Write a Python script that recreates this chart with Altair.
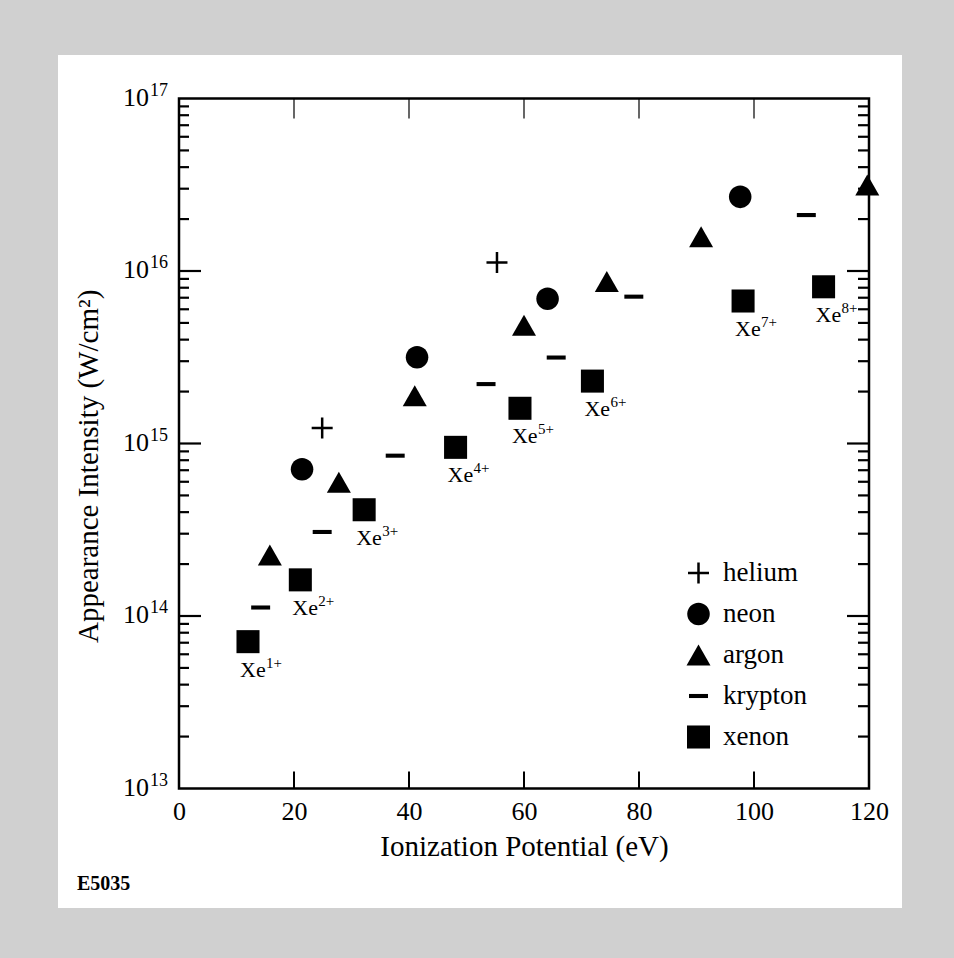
import altair as alt
import pandas as pd

# ---------------- data ----------------
species = ["helium", "neon", "argon", "krypton", "xenon"]

helium_ip = [24.9, 55.3]
helium_int = [1.23e15, 1.12e16]

neon_ip = [21.4, 41.4, 64.1, 97.6]
neon_int = [7.1e14, 3.16e15, 6.9e15, 2.69e16]

argon_ip = [15.8, 27.8, 41.0, 60.0, 74.4, 90.8, 119.7]
argon_int = [2.26e14, 5.96e14, 1.89e15, 4.84e15, 8.7e15, 1.58e16, 3.15e16]

krypton_ip = [14.2, 24.9, 37.6, 53.4, 65.6, 79.1, 109.1]
krypton_int = [1.12e14, 3.07e14, 8.5e14, 2.21e15, 3.15e15, 7.1e15, 2.11e16]

xenon_ip = [12.0, 21.1, 32.2, 48.1, 59.3, 71.9, 98.1, 112.1]
xenon_int = [7.1e13, 1.62e14, 4.13e14, 9.5e14, 1.6e15, 2.3e15, 6.7e15, 8.1e15]
xenon_base = ["Xe"] * 8
xenon_charge = ["1+", "2+", "3+", "4+", "5+", "6+", "7+", "8+"]

x_tick_values = [0, 20, 40, 60, 80, 100, 120]
x_inner_ticks = [20, 40, 60, 80, 100]
y_tick_values = [1e13, 1e14, 1e15, 1e16, 1e17]
y_tick_base = ["10"] * 5
y_tick_exp = ["13", "14", "15", "16", "17"]
y_major_inner = [1e14, 1e15, 1e16]
y_minor = [k * 10.0 ** d for d in range(13, 17) for k in range(2, 10)]

# ---------------- tables ----------------
rows = []
for name, xs, ys in [("helium", helium_ip, helium_int), ("neon", neon_ip, neon_int),
                     ("argon", argon_ip, argon_int), ("krypton", krypton_ip, krypton_int),
                     ("xenon", xenon_ip, xenon_int)]:
    for a, b in zip(xs, ys):
        rows.append({"species": name, "ip": a, "v": b})
df = pd.DataFrame(rows)
xe_df = pd.DataFrame({"ip": xenon_ip, "v": xenon_int, "base": xenon_base, "chg": xenon_charge})
ylab_df = pd.DataFrame({"v": y_tick_values, "base": y_tick_base, "exp": y_tick_exp})
minor_df = pd.DataFrame({"v": y_minor})
major_df = pd.DataFrame({"v": y_major_inner})
xt_df = pd.DataFrame({"ip": x_inner_ticks})

# ---------------- styling ----------------
FONT = "Liberation Serif"
W = H = 690

shape_paths = [
    "M-0.875,-0.104H-0.104V-0.875H0.104V-0.104H0.875V0.104H0.104V0.875H-0.104V0.104H-0.875Z",
    "M-0.94,0A0.94,0.94,0,1,0,0.94,0A0.94,0.94,0,1,0,-0.94,0Z",
    "M0,-0.875L1,0.875L-1,0.875Z",
    "M-0.79,-0.17H0.79V0.17H-0.79Z",
    "M-0.96,-0.96H0.96V0.96H-0.96Z",
]

x_scale = alt.Scale(domain=[0, 120], nice=False, zero=False)
y_scale = alt.Scale(type="log", domain=[1e13, 1e17], nice=False)

x_axis = alt.Axis(values=x_tick_values, format="d", ticks=False, tickSize=0, domain=False, grid=False,
                  labelFont=FONT, labelFontSize=26, labelColor="black", labelPadding=10,
                  labelFlush=False, title="Ionization Potential (eV)", titleFont=FONT,
                  titleFontSize=29, titleFontWeight="normal", titleColor="black",
                  titleBaseline="alphabetic", titleY=67, zindex=1)
y_axis = alt.Axis(values=y_tick_values, labels=False, ticks=False, tickSize=0, domain=False,
                  grid=False, title="Appearance Intensity (W/cm²)", titleFont=FONT, titleFontSize=29,
                  titleFontWeight="normal", titleColor="black", titleAngle=270,
                  titleAlign="left", titleBaseline="alphabetic", titleX=-82, titleY=544, zindex=1)

X = alt.X("ip:Q", scale=x_scale, axis=x_axis)
Y = alt.Y("v:Q", scale=y_scale, axis=y_axis)

# white sheet on the gray dithered page
sheet = alt.Chart(pd.DataFrame({"a": [0]})).mark_rect(color="white").encode(
    x=alt.value(-121), x2=alt.value(723), y=alt.value(-43.5), y2=alt.value(809.5))

frame = alt.Chart(pd.DataFrame({"a": [0]})).mark_rect(
    fillOpacity=0, stroke="black", strokeWidth=2.5).encode(
    x=alt.value(0), x2=alt.value(W), y=alt.value(0), y2=alt.value(H))

minor_left = alt.Chart(minor_df).mark_rule(color="black", strokeWidth=2.2).encode(
    y=Y, x=alt.value(0), x2=alt.value(10))
minor_right = alt.Chart(minor_df).mark_rule(color="black", strokeWidth=2.2).encode(
    y=Y, x=alt.value(W - 11), x2=alt.value(W))
major_left = alt.Chart(major_df).mark_rule(color="black", strokeWidth=2.2).encode(
    y=Y, x=alt.value(0), x2=alt.value(22))
major_right = alt.Chart(major_df).mark_rule(color="black", strokeWidth=2.2).encode(
    y=Y, x=alt.value(W - 22), x2=alt.value(W))
xt_bottom = alt.Chart(xt_df).mark_rule(color="black", strokeWidth=2).encode(
    x=X, y=alt.value(H), y2=alt.value(H - 17))
xt_top = alt.Chart(xt_df).mark_rule(color="black", strokeWidth=1.2).encode(
    x=X, y=alt.value(0), y2=alt.value(20))

# y tick labels 10^n drawn as base + superscript
ylab_base = alt.Chart(ylab_df).mark_text(font=FONT, fontSize=26, color="black", align="right",
                                         baseline="alphabetic", dy=7).encode(
    y=Y, x=alt.value(-30), text="base:N")
ylab_exp = alt.Chart(ylab_df).mark_text(font=FONT, fontSize=18, color="black", align="left",
                                        baseline="alphabetic", dy=-3).encode(
    y=Y, x=alt.value(-29), text="exp:N")

points = alt.Chart(df).mark_point(filled=True, color="black", opacity=1, size=576, strokeWidth=0).encode(
    x=X, y=Y,
    shape=alt.Shape("species:N", scale=alt.Scale(domain=species, range=shape_paths),
                    legend=alt.Legend(orient="none", legendX=506, legendY=461, title=None,
                                      labelFont=FONT, labelFontSize=27, labelColor="black",
                                      symbolSize=576, labelOffset=11, rowPadding=13, padding=0,
                                      symbolFillColor="black", symbolStrokeColor="black",
                                      symbolStrokeWidth=0, symbolOpacity=1)))

xe_text = alt.Chart(xe_df).mark_text(font=FONT, fontSize=22, color="black", align="left",
                                     baseline="alphabetic", dx=-8, dy=35).encode(
    x=X, y=Y, text="base:N")
xe_sup = alt.Chart(xe_df).mark_text(font=FONT, fontSize=15, color="black", align="left",
                                    baseline="alphabetic", dx=18, dy=26).encode(
    x=X, y=Y, text="chg:N")

code = alt.Chart(pd.DataFrame({"a": [0]})).mark_text(
    font=FONT, fontSize=20, fontWeight="bold", color="black", align="left",
    baseline="alphabetic").encode(x=alt.value(-102), y=alt.value(791.5), text=alt.value("E5035"))

chart = alt.layer(sheet, minor_left, minor_right, major_left, major_right, xt_bottom, xt_top,
                  ylab_base, ylab_exp, points, xe_text, xe_sup, frame, code).properties(
    width=W, height=H,
    autosize=alt.AutoSizeParams(type="none"),
    padding={"left": 179, "top": 98.5, "right": 85, "bottom": 169},
    background="#d0d0d0",
).configure_view(strokeWidth=0)

chart.save("out.html", embed_options={"renderer": "svg", "actions": False})
